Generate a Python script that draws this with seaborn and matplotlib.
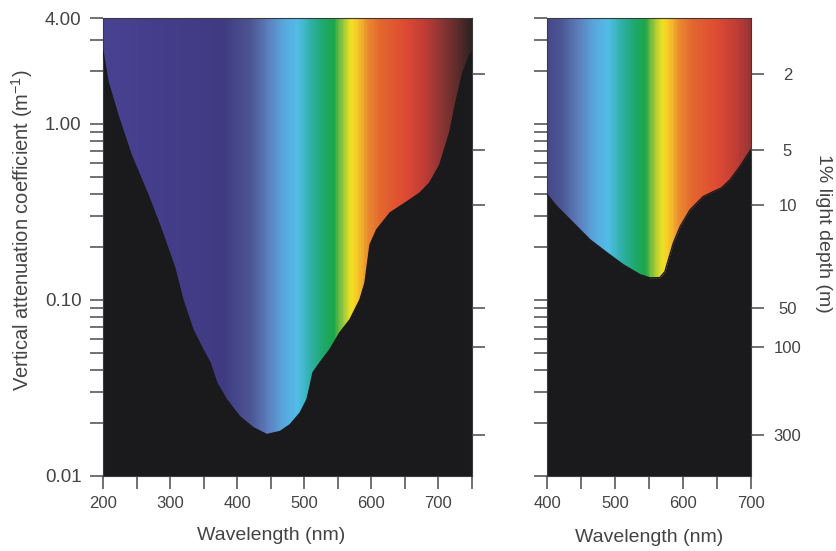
"""
Spectral attenuation of light in water: open ocean (left) and coastal water (right).
Vertical attenuation coefficient on a log axis, with the 1% light depth on the right.
"""

import matplotlib
matplotlib.use("Agg")
import matplotlib.pyplot as plt
import numpy as np
import seaborn as sns
from matplotlib.colors import LinearSegmentedColormap, Normalize
from matplotlib.ticker import FixedLocator, LogLocator, MultipleLocator, NullFormatter

# ---------------------------------------------------------------------------
# Data
# ---------------------------------------------------------------------------

OCEAN_WL = [200, 207.5, 222, 242, 267, 286, 307, 319, 334, 349, 359.5, 369.5,
            384, 404, 424, 444, 464, 479, 494, 504, 508.5, 513, 523.5, 538,
            553, 568, 583, 590.5, 595, 598, 608, 628, 653, 672.5, 687, 702,
            717, 727.5, 736.5, 747, 750]
OCEAN_K = [2.58, 1.74, 1.13, 0.667, 0.396, 0.257, 0.152, 0.1005, 0.0678, 0.0522,
           0.0441, 0.0339, 0.0272, 0.0217, 0.0188, 0.0172, 0.0179, 0.0196, 0.0229,
           0.0272, 0.0322, 0.0387, 0.0441, 0.0522, 0.0652, 0.0773, 0.1005, 0.1254,
           0.169, 0.206, 0.251, 0.313, 0.361, 0.406, 0.463, 0.586, 0.90, 1.41,
           1.97, 2.47, 2.57]

COASTAL_WL = [400, 414, 438, 463, 488, 512, 537, 551.5, 566, 573.5, 578.5, 586,
              596, 610.5, 630, 645, 657, 669.5, 684, 700]
COASTAL_K = [0.396, 0.340, 0.2745, 0.2197, 0.1854, 0.1585, 0.139, 0.1336, 0.134,
             0.145, 0.169, 0.2115, 0.2616, 0.325, 0.387, 0.413, 0.4335, 0.4816,
             0.573, 0.713]

K_TICKS = [0.01, 0.1, 1.0, 4.0]
K_TICK_LABELS = ["0.01", "0.10", "1.00", "4.00"]

DEPTH_LABELS = ["2", "5", "10", "50", "100", "300"]
DEPTH_TICK_K = [1.92, 0.713, 0.348, 0.0903, 0.0543, 0.0172]

# ---------------------------------------------------------------------------
# Style
# ---------------------------------------------------------------------------

SPECTRUM = [
    (200, "#484292"), (280, "#443d8a"), (380, "#403a82"), (420, "#4c5593"),
    (445, "#5b7cbb"), (470, "#58a8dd"), (490, "#52bde9"), (510, "#2fb0a8"),
    (530, "#1da86a"), (545, "#1ea64a"), (558, "#9cc83c"), (570, "#f2e021"),
    (580, "#f6c52a"), (595, "#ea8a30"), (615, "#e2662f"), (650, "#df4b33"),
    (680, "#c03c35"), (705, "#8e3434"), (730, "#5a2b2a"), (750, "#2c2224"),
]
WL_MIN, WL_MAX = 200, 750
BLACK = "#1a1a1d"
TEXT = "#444444"
TICK = "#4a4a4a"

spec_cmap = LinearSegmentedColormap.from_list(
    "spectrum", [((w - WL_MIN) / (WL_MAX - WL_MIN), c) for w, c in SPECTRUM]
)

sns.set_theme(style="ticks")
plt.rcParams["font.family"] = ["Liberation Sans", "DejaVu Sans"]
plt.rcParams.update({
    "mathtext.fontset": "custom",
    "mathtext.rm": "Liberation Sans",
    "mathtext.it": "Liberation Sans",
    "mathtext.bf": "Liberation Sans",
    "text.color": TEXT,
    "axes.labelcolor": TEXT,
})


def draw_panel(ax, wl, k, xlim):
    # colour spectrum as background, black water below the curve
    grid = np.arange(xlim[0], xlim[1] + 1, 1.0)
    ax.pcolormesh(grid, [0.01, 4.0], grid[None, :-1] + 0.5, cmap=spec_cmap,
                  norm=Normalize(WL_MIN, WL_MAX), shading="flat", rasterized=True)
    ax.fill_between(wl, 0.001, k, color=BLACK, linewidth=0, zorder=2)
    sns.lineplot(x=wl, y=k, color=BLACK, linewidth=1.0, sort=False, ax=ax, zorder=3)

    ax.set_yscale("log")
    ax.set_xlim(*xlim)
    ax.set_ylim(0.01, 4.0)
    ax.xaxis.set_major_locator(MultipleLocator(100))
    ax.xaxis.set_minor_locator(MultipleLocator(50))
    ax.yaxis.set_major_locator(FixedLocator(K_TICKS))
    ax.yaxis.set_minor_locator(LogLocator(base=10, subs=np.arange(2, 10)))
    ax.yaxis.set_minor_formatter(NullFormatter())
    ax.tick_params(which="both", direction="out", length=9.5, width=1.1,
                   color=TICK, labelsize=12, labelcolor=TEXT, pad=5)
    for s in ax.spines.values():
        s.set_color("#3a3a3a")
        s.set_linewidth(0.8)
    ax.set_xlabel("Wavelength (nm)", fontsize=14, labelpad=13)

    # 1% light depth ticks on the right side
    ax2 = ax.twinx()
    ax2.set_yscale("log")
    ax2.set_ylim(0.01, 4.0)
    ax2.yaxis.set_major_locator(FixedLocator(DEPTH_TICK_K))
    ax2.yaxis.set_minor_locator(FixedLocator([]))
    ax2.tick_params(axis="y", direction="out", length=9.5, width=1.1,
                    color=TICK, labelsize=12, labelcolor=TEXT, pad=17)
    for s in ax2.spines.values():
        s.set_visible(False)
    return ax2


fig = plt.figure(figsize=(8.37, 5.51), dpi=100)
ax_l = fig.add_axes([103 / 837, 75 / 551, 369 / 837, 458 / 551])
ax_r = fig.add_axes([547.3 / 837, 75 / 551, 203.4 / 837, 458 / 551])

twin_l = draw_panel(ax_l, OCEAN_WL, OCEAN_K, (200, 750))
twin_r = draw_panel(ax_r, COASTAL_WL, COASTAL_K, (400, 700))

ax_l.set_yticklabels(K_TICK_LABELS)
ax_l.tick_params(axis="y", labelsize=13.5, pad=6)
ax_l.set_ylabel("Vertical attenuation coefficient (m$^{-1}$)", fontsize=14.5)
ax_l.yaxis.set_label_coords(-0.184, 0.537)
ax_l.xaxis.set_label_coords(0.455, -0.112)
twin_l.set_yticklabels([])

ax_r.set_yticklabels([])
twin_r.set_yticklabels(DEPTH_LABELS)
for lab in twin_r.get_yticklabels():
    lab.set_horizontalalignment("center")
twin_r.set_ylabel("1% light depth (m)", fontsize=14, rotation=270, va="bottom")
twin_r.yaxis.set_label_coords(1.315, 0.53)

fig.savefig("out.png", dpi=100)
